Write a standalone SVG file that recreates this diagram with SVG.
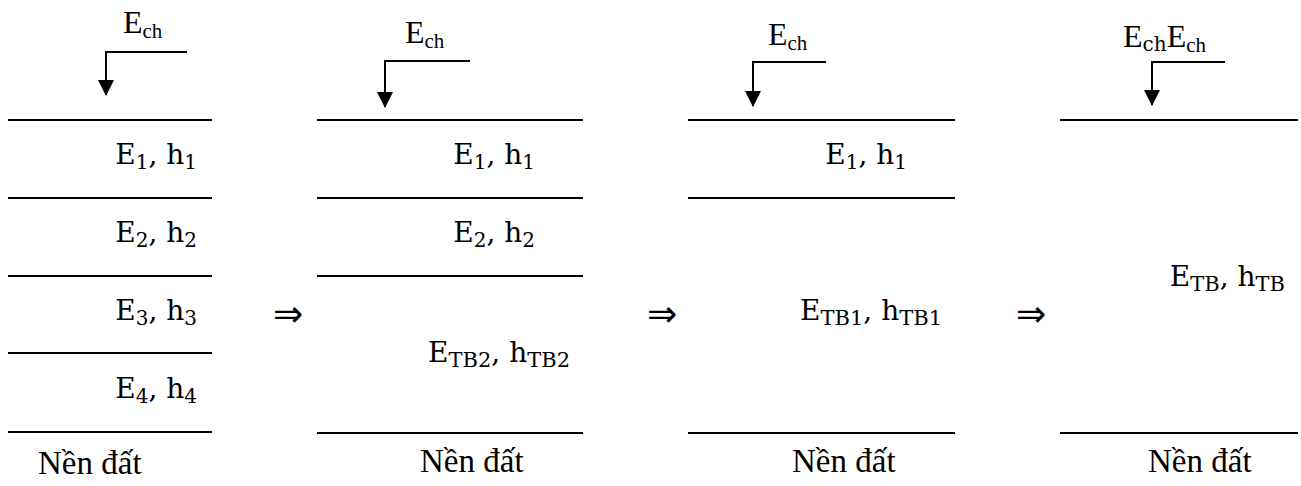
<svg xmlns="http://www.w3.org/2000/svg" width="1301" height="486" viewBox="0 0 1301 486">
<style>
.layer{stroke:#000;stroke-width:2;fill:none}
.lead{stroke:#000;stroke-width:2;fill:none;marker-end:url(#ah)}
.tms{font-family:"Liberation Serif","Times New Roman",serif;font-size:32px;fill:#000}
.base{font-family:"Liberation Serif","Times New Roman",serif;font-size:33px;fill:#000}
.sub{font-size:21px}
.math{font-family:"DejaVu Serif","Liberation Serif",serif;font-size:28px;fill:#000;text-anchor:end}
.ms{font-size:20px}
.mt{font-size:21px}
.imp{font-family:"DejaVu Sans","Liberation Serif",sans-serif;font-size:36px;fill:#000;text-anchor:middle}
</style>
<defs>
<marker id="ah" markerUnits="userSpaceOnUse" markerWidth="16" markerHeight="16" refX="15" refY="8" orient="auto" viewBox="0 0 16 16">
<path d="M0,0 L16,8 L0,16 z" fill="#000"/>
</marker>
</defs>
<rect width="1301" height="486" fill="#fff"/>

<g id="panel1">
<text class="tms" x="123" y="33">E<tspan class="sub" dy="5">ch</tspan></text>
<line class="layer" x1="8" y1="120" x2="212" y2="120"/>
<line class="layer" x1="8" y1="198" x2="212" y2="198"/>
<line class="layer" x1="8" y1="276" x2="212" y2="276"/>
<line class="layer" x1="8" y1="353" x2="212" y2="353"/>
<line class="layer" x1="8" y1="432" x2="212" y2="432"/>
<text class="math" x="197" y="164">E<tspan class="ms" dy="5">1</tspan><tspan dy="-5">, h</tspan><tspan class="ms" dy="5">1</tspan></text>
<text class="math" x="197" y="242">E<tspan class="ms" dy="5">2</tspan><tspan dy="-5">, h</tspan><tspan class="ms" dy="5">2</tspan></text>
<text class="math" x="197" y="320">E<tspan class="ms" dy="5">3</tspan><tspan dy="-5">, h</tspan><tspan class="ms" dy="5">3</tspan></text>
<text class="math" x="197" y="398">E<tspan class="ms" dy="5">4</tspan><tspan dy="-5">, h</tspan><tspan class="ms" dy="5">4</tspan></text>
<text class="base" x="38" y="474" font-size="37">Nền đất</text>
</g>

<g id="panel2">
<text class="tms" x="405" y="43">E<tspan class="sub" dy="5">ch</tspan></text>
<line class="layer" x1="317" y1="120" x2="583" y2="120"/>
<line class="layer" x1="317" y1="198" x2="583" y2="198"/>
<line class="layer" x1="317" y1="276" x2="583" y2="276"/>
<line class="layer" x1="317" y1="433" x2="583" y2="433"/>
<text class="math" x="535" y="164">E<tspan class="ms" dy="5">1</tspan><tspan dy="-5">, h</tspan><tspan class="ms" dy="5">1</tspan></text>
<text class="math" x="535" y="242">E<tspan class="ms" dy="5">2</tspan><tspan dy="-5">, h</tspan><tspan class="ms" dy="5">2</tspan></text>
<text class="math" x="570" y="362">E<tspan class="mt" dy="5">TB2</tspan><tspan dy="-5">, h</tspan><tspan class="mt" dy="5">TB2</tspan></text>
<text class="base" x="420" y="472">Nền đất</text>
</g>

<g id="panel3">
<text class="tms" x="768" y="45">E<tspan class="sub" dy="5">ch</tspan></text>
<line class="layer" x1="688" y1="120" x2="955" y2="120"/>
<line class="layer" x1="688" y1="198" x2="955" y2="198"/>
<line class="layer" x1="688" y1="433" x2="955" y2="433"/>
<text class="math" x="907" y="164">E<tspan class="ms" dy="5">1</tspan><tspan dy="-5">, h</tspan><tspan class="ms" dy="5">1</tspan></text>
<text class="math" x="942" y="320">E<tspan class="mt" dy="5">TB1</tspan><tspan dy="-5">, h</tspan><tspan class="mt" dy="5">TB1</tspan></text>
<text class="base" x="792" y="472">Nền đất</text>
</g>

<g id="panel4">
<text class="tms" x="1123" y="47">E<tspan class="ms" dy="4" font-family="DejaVu Serif">ch</tspan><tspan dy="-4">E</tspan><tspan class="sub" dy="5">ch</tspan></text>
<line class="layer" x1="1060" y1="120" x2="1298" y2="120"/>
<line class="layer" x1="1060" y1="433" x2="1298" y2="433"/>
<text class="math" x="1285" y="286">E<tspan class="mt" dy="5">TB</tspan><tspan dy="-5">, h</tspan><tspan class="mt" dy="5">TB</tspan></text>
<text class="base" x="1148" y="472">Nền đất</text>
</g>

<g id="implies">
<text class="imp" x="288" y="326">⇒</text>
<text class="imp" x="662" y="326">⇒</text>
<text class="imp" x="1031" y="326">⇒</text>
</g>

<g id="connectors">
<path class="lead" d="M187,52 H106 V95"/>
<path class="lead" d="M470,61 H385 V107"/>
<path class="lead" d="M826,62 H753 V106"/>
<path class="lead" d="M1225,62 H1152 V105"/>
</g>
</svg>
